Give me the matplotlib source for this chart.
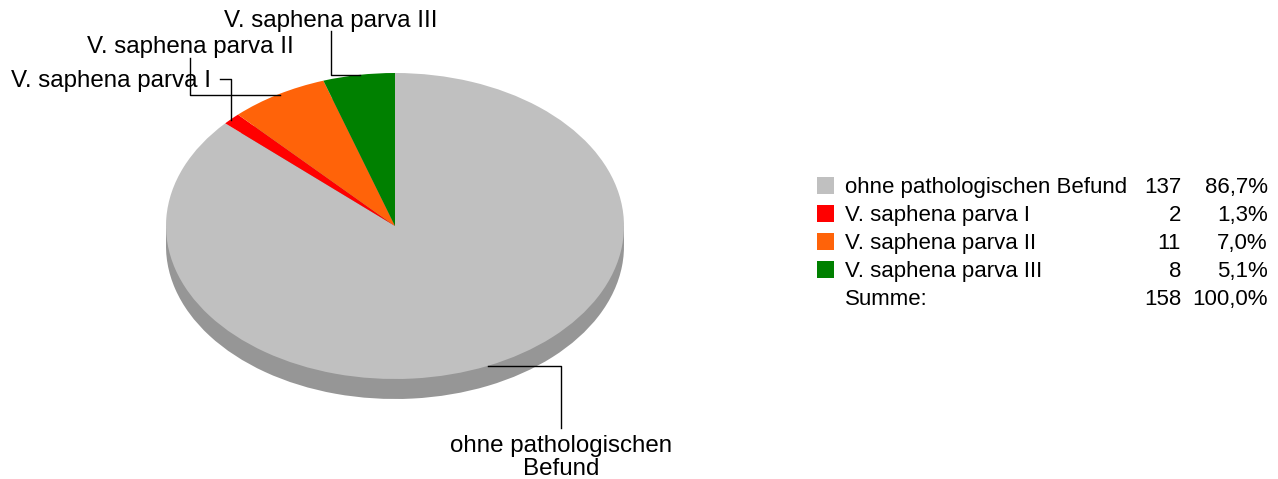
import matplotlib
matplotlib.use("Agg")
import matplotlib.pyplot as plt
from matplotlib.patches import Rectangle

# ---- data ----
categories = ["ohne pathologischen Befund", "V. saphena parva I",
              "V. saphena parva II", "V. saphena parva III"]
counts = [137, 2, 11, 8]
colors = ["#c0c0c0", "#ff0000", "#ff6309", "#008000"]
sum_label = "Summe:"

plt.rcParams['font.family'] = ['Liberation Sans', 'DejaVu Sans']
FS = 17.4   # slice labels
LFS = 16    # legend table

W, H = 1278, 479
fig = plt.figure(figsize=(W / 100, H / 100), dpi=100)

# ---- pie (elliptical, with depth) ----
cx, cy, rx, ry, depth = 395, 226, 229, 153, 20
d = depth / ry
top_px = cy - ry
bot_px = cy + ry + depth
ax = fig.add_axes([(cx - rx) / W, 1 - bot_px / H, 2 * rx / W, (bot_px - top_px) / H])
side = "#969696"
ax.pie(counts, colors=[side] * len(counts), startangle=90, counterclock=False,
       center=(0, -d), radius=1, wedgeprops=dict(linewidth=0), frame=False)
ax.add_patch(Rectangle((-1, -d), 2, d, facecolor=side, edgecolor='none', zorder=0.5))
ax.pie(counts, colors=colors, startangle=90, counterclock=False,
       center=(0, 0), radius=1, wedgeprops=dict(linewidth=0), frame=False)
ax.set_aspect('auto')
ax.set_xlim(-1, 1)
ax.set_ylim(-1 - d, 1)
ax.axis('off')

# ---- overlay in pixel coordinates ----
ov = fig.add_axes([0, 0, 1, 1])
ov.set_xlim(0, W)
ov.set_ylim(H, 0)
ov.axis('off')
ov.patch.set_alpha(0)

lk = dict(color='black', lw=1)
# V. saphena parva III
ov.text(331, 27, categories[3], fontsize=FS, ha='center', va='baseline')
ov.plot([331, 331, 360], [31, 75, 75], **lk)
# V. saphena parva II
ov.text(190, 53, categories[2], fontsize=FS, ha='center', va='baseline')
ov.plot([190, 190, 280], [58, 95, 95], **lk)
# V. saphena parva I
ov.text(211, 87, categories[1], fontsize=FS, ha='right', va='baseline')
ov.plot([220, 231, 231], [79, 79, 120], **lk)
# ohne pathologischen Befund
ov.text(561, 475, "ohne pathologischen\nBefund", fontsize=FS, ha='center',
        va='baseline', linespacing=1.05)
ov.plot([488, 561, 561], [366, 366, 428], **lk)

# ---- legend table ----
total = sum(counts)
row_y = [185, 213, 241, 269, 297]
for i, (cat, n, col) in enumerate(zip(categories, counts, colors)):
    y = row_y[i]
    ov.add_patch(Rectangle((817, y - 8.5), 17, 17, facecolor=col, edgecolor='none'))
    ov.text(845, y, cat, fontsize=LFS, ha='left', va='center_baseline')
    ov.text(1181, y, str(n), fontsize=LFS, ha='right', va='center_baseline')
    ov.text(1268, y, f"{100 * n / total:.1f}%".replace('.', ','), fontsize=LFS,
            ha='right', va='center_baseline')
y = row_y[4]
ov.text(845, y, sum_label, fontsize=LFS, ha='left', va='center_baseline')
ov.text(1181, y, str(total), fontsize=LFS, ha='right', va='center_baseline')
ov.text(1268, y, "100,0%", fontsize=LFS, ha='right', va='center_baseline')

fig.savefig("out.png", dpi=100)
